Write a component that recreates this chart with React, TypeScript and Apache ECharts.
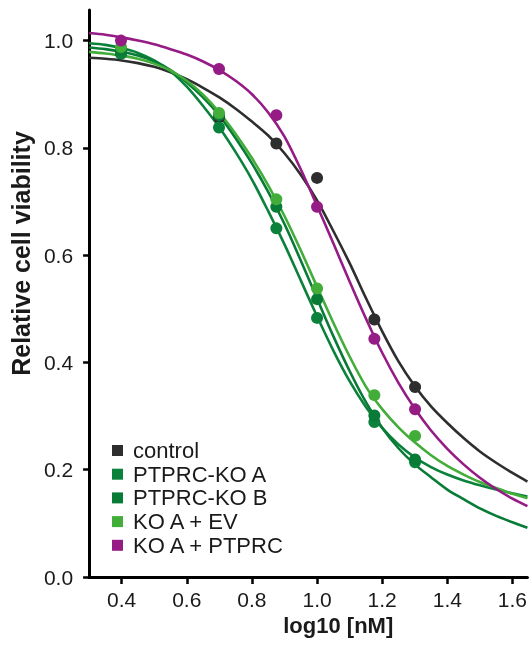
import React, { useEffect, useRef } from "react";
import * as echarts from "echarts";

const seriesNames = ["control", "PTPRC-KO A", "PTPRC-KO B", "KO A + EV", "KO A + PTPRC"];
const seriesColors = ["#2e2e2e", "#0b823c", "#087b36", "#42ad38", "#951b85"];

// measured points: x = log10 concentration [nM]
const doseLog = [0.398, 0.699, 0.875, 1.0, 1.176, 1.301];
const controlPts = [0.976, 0.857, 0.808, 0.744, 0.48, 0.354];
const koAPts = [0.976, 0.838, 0.65, 0.483, 0.289, 0.214];
const koBPts = [0.982, 0.861, 0.69, 0.518, 0.301, 0.219];
const evPts = [0.988, 0.865, 0.704, 0.538, 0.339, 0.263];
const ptprcPts = [1.0, 0.947, 0.861, 0.69, 0.444, 0.3125];

// fitted curves at these x positions
const fitX = [0.3, 0.35, 0.4, 0.45, 0.5, 0.55, 0.6, 0.65, 0.7, 0.75, 0.8, 0.85, 0.9, 0.95, 1.0, 1.05, 1.1, 1.15, 1.2, 1.25, 1.3, 1.35, 1.4, 1.45, 1.5, 1.55, 1.6, 1.646];
const controlFit = [0.968, 0.966, 0.963, 0.958, 0.951, 0.941, 0.928, 0.912, 0.894, 0.873, 0.849, 0.823, 0.79, 0.75, 0.702, 0.645, 0.585, 0.52, 0.458, 0.402, 0.356, 0.318, 0.287, 0.259, 0.234, 0.213, 0.194, 0.178];
const koAFit = [0.995, 0.992, 0.986, 0.977, 0.963, 0.943, 0.914, 0.878, 0.838, 0.792, 0.741, 0.682, 0.62, 0.553, 0.486, 0.422, 0.365, 0.317, 0.278, 0.247, 0.223, 0.205, 0.191, 0.18, 0.171, 0.163, 0.156, 0.15];
const koBFit = [0.987, 0.984, 0.979, 0.972, 0.961, 0.945, 0.922, 0.894, 0.86, 0.818, 0.771, 0.718, 0.658, 0.59, 0.519, 0.449, 0.384, 0.326, 0.278, 0.24, 0.21, 0.186, 0.163, 0.145, 0.128, 0.114, 0.102, 0.092];
const evFit = [0.979, 0.976, 0.972, 0.966, 0.957, 0.944, 0.925, 0.899, 0.866, 0.826, 0.781, 0.73, 0.673, 0.609, 0.541, 0.474, 0.411, 0.355, 0.313, 0.279, 0.251, 0.227, 0.207, 0.191, 0.177, 0.166, 0.155, 0.147];
const ptprcFit = [1.014, 1.011, 1.006, 1.0, 0.993, 0.984, 0.974, 0.961, 0.945, 0.925, 0.9, 0.866, 0.821, 0.76, 0.692, 0.622, 0.551, 0.482, 0.418, 0.362, 0.314, 0.273, 0.239, 0.21, 0.185, 0.164, 0.146, 0.132];

const xTicks = [0.4, 0.6, 0.8, 1.0, 1.2, 1.4, 1.6];
const yTicks = [0.0, 0.2, 0.4, 0.6, 0.8, 1.0];

const FONT = "'Liberation Sans', Arial, Helvetica, sans-serif";

export default function App() {
  const ref = useRef<HTMLDivElement>(null);
  useEffect(() => {
    if (!ref.current) return;
    const chart = echarts.init(ref.current, undefined, { renderer: "svg" });
    const pts = [controlPts, koAPts, koBPts, evPts, ptprcPts];
    const fits = [controlFit, koAFit, koBFit, evFit, ptprcFit];
    const lineSeries = seriesNames.map((name, i) => ({
      name,
      type: "line",
      color: seriesColors[i],
      data: fitX.map((x, j) => [x, fits[i][j]]),
      smooth: 0.3,
      showSymbol: false,
      symbol: "none",
      lineStyle: { width: 2.6, color: seriesColors[i] },
      z: 2,
    }));
    const dotSeries = seriesNames.map((name, i) => ({
      name,
      type: "scatter",
      color: seriesColors[i],
      data: doseLog.map((x, j) => [x, pts[i][j]]),
      symbol: "circle",
      symbolSize: 12,
      itemStyle: { color: seriesColors[i], opacity: 1 },
      z: 3,
    }));
    chart.setOption({
      animation: false,
      textStyle: { fontFamily: FONT },
      grid: { left: 88, right: 0, top: 10, bottom: 68 },
      legend: {
        data: seriesNames,
        orient: "vertical",
        left: 112,
        top: 439.5,
        padding: 0,
        icon: "rect",
        itemWidth: 11,
        itemHeight: 11,
        itemGap: 1.7,
        textStyle: { fontSize: 22, color: "#1a1a1a", lineHeight: 22, padding: [0, 0, 0, 5], fontFamily: FONT },
      },
      xAxis: {
        type: "value",
        min: 0.3,
        max: 1.646,
        name: "log10 [nM]",
        nameLocation: "middle",
        nameGap: 37,
        nameTextStyle: { fontSize: 22, fontWeight: "bold", color: "#1a1a1a", padding: [0, 0, 0, 60], fontFamily: FONT },
        axisLine: { onZero: false, lineStyle: { color: "#000", width: 3 } },
        axisTick: { customValues: xTicks, length: 7, lineStyle: { color: "#000", width: 2.5 } },
        axisLabel: {
          customValues: xTicks,
          formatter: (v: number) => v.toFixed(1),
          fontSize: 21,
          color: "#1a1a1a",
          margin: 12,
          fontFamily: FONT,
        },
        splitLine: { show: false },
      },
      yAxis: {
        type: "value",
        min: 0,
        max: 1.057,
        name: "Relative cell viability",
        nameLocation: "middle",
        nameGap: 48,
        nameTextStyle: { fontSize: 25, fontWeight: "bold", color: "#1a1a1a", padding: [0, 0, 0, 80], fontFamily: FONT },
        axisLine: { show: true, onZero: false, lineStyle: { color: "#000", width: 3 } },
        axisTick: { show: true, customValues: yTicks, length: 6, lineStyle: { color: "#000", width: 2.5 } },
        axisLabel: {
          customValues: yTicks,
          formatter: (v: number) => v.toFixed(1),
          fontSize: 21,
          color: "#1a1a1a",
          margin: 16,
          fontFamily: FONT,
        },
        splitLine: { show: false },
      },
      series: [...lineSeries, ...dotSeries],
    });
    return () => chart.dispose();
  }, []);
  return <div ref={ref} style={{ position: "fixed", left: 0, top: 0, width: 530, height: 645 }} />;
}
